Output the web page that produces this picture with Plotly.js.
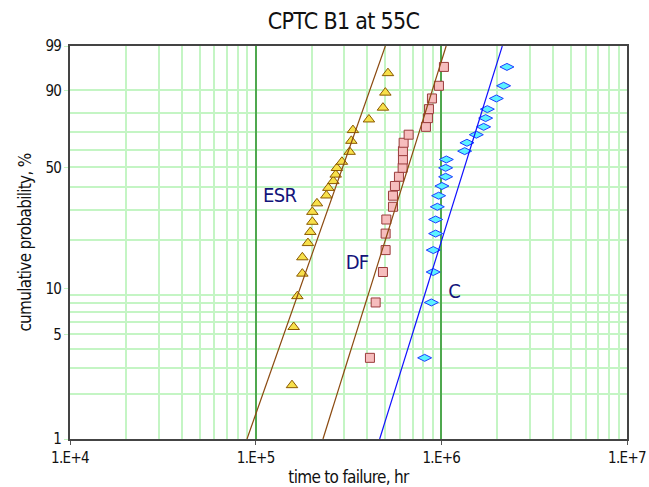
<!DOCTYPE html>
<html>
<head>
<meta charset="utf-8">
<script src="https://cdn.plot.ly/plotly-3.0.1.min.js"></script>
<style>
  html, body { margin: 0; padding: 0; background: #ffffff; }
  #chart { width: 649px; height: 487px; }
  #chart text { letter-spacing: -0.7px; }
</style>
</head>
<body>
<div id="chart"></div>
<script>
// ESR failures: time to failure (hr) and cumulative probability (%)
const esrHours = [156900, 160200, 167700, 178400, 178400, 191200, 197000, 202000, 202000, 213800,
                  240300, 246300, 262000, 269700, 273700, 291500, 320700, 327500, 334100, 407400,
                  484800, 499400, 515800];
const esrPct   = [2.3, 5.6, 8.9, 12.4, 15.7, 19.2, 22.4, 25.7, 29.3, 32.7,
                  36.1, 39.6, 42.9, 46.2, 49.7, 53.1, 58.7, 65.0, 71.1, 76.9,
                  82.8, 89.2, 95.1];

// DF and C failures share the same rank positions (21 units each)
const dfHours = [412600, 442900, 484800, 501200, 501200, 505500, 548900, 548900, 562600, 591200,
                 618900, 621200, 621200, 626600, 666600, 826300, 847100, 857500, 890100, 970700,
                 1032700];
const cHours  = [813000, 883600, 904000, 905000, 931800, 931800, 951700, 967200, 1007500, 1054800,
                 1054800, 1063900, 1335300, 1373900, 1543400, 1689900, 1732300, 1769100, 1978000, 2165000,
                 2256000];
const rankPct = [3.5, 8.1, 12.7, 17.4, 21.9, 26.5, 31.3, 36.0, 40.5, 45.1,
                 49.8, 54.4, 59.1, 63.9, 68.5, 72.9, 77.6, 82.1, 86.9, 91.6,
                 96.4];

// Fitted Weibull lines, given by their times at 1 % and 99 %
const fitPct      = [1, 99];
const esrFitHours = [89800, 499400];
const dfFitHours  = [230400, 1061500];
const cFitHours   = [465400, 2130000];

// Axis ticks
const yLabelPct = [1, 5, 10, 50, 90, 99];
const yGridPct  = [2, 3, 4, 5, 6, 7, 8, 9, 20, 30, 40, 50, 60, 70, 80, 90];
const yStrongPct = [10];
const xTickVals = [1e4, 1e5, 1e6, 1e7];
const xTickText = ['1.E+4', '1.E+5', '1.E+6', '1.E+7'];
const xGridVals = [2e4, 3e4, 4e4, 5e4, 6e4, 7e4, 8e4, 9e4,
                   2e5, 3e5, 4e5, 5e5, 6e5, 7e5, 8e5, 9e5,
                   2e6, 3e6, 4e6, 5e6, 6e6, 7e6, 8e6, 9e6];

// Weibull probability scale: ln(-ln(1 - F))
const weib = p => Math.log(-Math.log(1 - p / 100));

const FONT = '"DejaVu Sans Condensed", "DejaVu Sans", sans-serif';
const LIGHT_GRID = '#C4F5C4';
const LINE_BROWN = '#8B4A10';

const traces = [
  {
    x: esrHours, y: esrPct.map(weib), mode: 'markers', type: 'scatter', name: 'ESR',
    marker: { symbol: 'triangle-up', size: 10, color: '#F7E04A', line: { color: '#8B5A00', width: 1 } }
  },
  {
    x: dfHours, y: rankPct.map(weib), mode: 'markers', type: 'scatter', name: 'DF',
    marker: { symbol: 'square', size: 9, color: '#F6BDBD', line: { color: '#9A3C3C', width: 1 } }
  },
  {
    x: cHours, y: rankPct.map(weib), mode: 'markers', type: 'scatter', name: 'C',
    marker: { symbol: 'diamond-wide', size: 10, color: '#5CF2FF', line: { color: '#1E3CFF', width: 1 } }
  },
  {
    x: esrFitHours, y: fitPct.map(weib), mode: 'lines', type: 'scatter', name: 'ESR fit',
    line: { color: LINE_BROWN, width: 1.2 }
  },
  {
    x: dfFitHours, y: fitPct.map(weib), mode: 'lines', type: 'scatter', name: 'DF fit',
    line: { color: LINE_BROWN, width: 1.2 }
  },
  {
    x: cFitHours, y: fitPct.map(weib), mode: 'lines', type: 'scatter', name: 'C fit',
    line: { color: '#1010FF', width: 1.2 }
  }
];

const yRange = [weib(1), weib(99)];

// Series labels placed beside their groups
const labelFont = { family: FONT, size: 20, color: '#14147A' };
const seriesLabels = [
  { text: 'ESR', hours: 134600,  pct: 36.3 },
  { text: 'DF',  hours: 349900,  pct: 14.6 },
  { text: 'C',   hours: 1180000, pct: 9.6 }
];

const layout = {
  width: 649, height: 487,
  margin: { l: 70, r: 22, t: 46, b: 48 },
  paper_bgcolor: '#ffffff', plot_bgcolor: '#ffffff',
  showlegend: false,
  font: { family: FONT, color: '#111111', size: 15 },
  title: {
    text: 'CPTC B1 at 55C',
    font: { family: FONT, size: 23, color: '#111111' },
    xref: 'paper', x: 0.491, xanchor: 'center',
    yref: 'container', y: 0.957, yanchor: 'middle'
  },
  xaxis: {
    type: 'log', range: [4, 7],
    tickmode: 'array', tickvals: xTickVals, ticktext: xTickText,
    tickfont: { family: FONT, size: 15, color: '#111111' },
    ticks: 'outside', ticklen: 4, tickcolor: '#555555',
    showgrid: true, gridcolor: '#4FA84F', gridwidth: 2,
    minor: { tickmode: 'array', tickvals: xGridVals, showgrid: true, gridcolor: LIGHT_GRID, gridwidth: 1.5, ticks: '' },
    showline: true, linecolor: '#444444', linewidth: 1.5, mirror: true,
    zeroline: false,
    title: { text: 'time to failure, hr', font: { family: FONT, size: 17, color: '#111111' }, standoff: 6 }
  },
  yaxis: {
    type: 'linear', range: yRange,
    tickmode: 'array', tickvals: yLabelPct.map(weib), ticktext: yLabelPct.map(String),
    tickfont: { family: FONT, size: 15, color: '#111111' },
    ticks: 'outside', ticklen: 4, tickcolor: LIGHT_GRID,
    showgrid: false,
    minor: { tickmode: 'array', tickvals: yGridPct.map(weib), showgrid: true, gridcolor: LIGHT_GRID, gridwidth: 1.5, ticks: '' },
    showline: true, linecolor: '#444444', linewidth: 1.5, mirror: true,
    zeroline: false,
    title: { text: 'cumulative probability, %', font: { family: FONT, size: 17, color: '#111111' }, standoff: 8 }
  },
  yaxis2: {
    overlaying: 'y', anchor: 'x', side: 'left', range: yRange,
    tickmode: 'array', tickvals: yStrongPct.map(weib), showticklabels: false, ticks: '',
    showgrid: true, gridcolor: '#86C9A0', gridwidth: 2,
    showline: false, zeroline: false
  },
  annotations: seriesLabels.map(l => ({
    text: l.text, xref: 'x', yref: 'y', x: Math.log10(l.hours), y: weib(l.pct),
    xanchor: 'center', yanchor: 'middle', showarrow: false, font: labelFont
  }))
};

Plotly.newPlot('chart', traces, layout, { displayModeBar: false, responsive: false });
</script>
</body>
</html>
